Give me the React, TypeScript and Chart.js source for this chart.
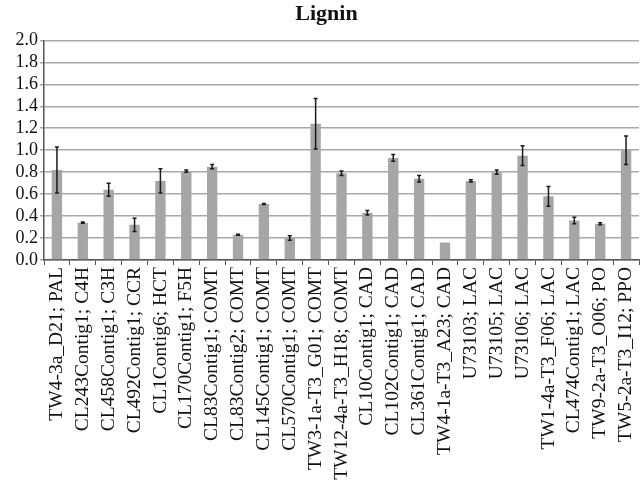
import React, { useEffect, useRef } from "react";
import { Chart, registerables } from "chart.js";

Chart.register(...registerables);

const categories = [
  "TW4-3a_D21; PAL",
  "CL243Contig1; C4H",
  "CL458Contig1; C3H",
  "CL492Contig1; CCR",
  "CL1Contig6; HCT",
  "CL170Contig1; F5H",
  "CL83Contig1; COMT",
  "CL83Contig2; COMT",
  "CL145Contig1; COMT",
  "CL570Contig1; COMT",
  "TW3-1a-T3_G01; COMT",
  "TW12-4a-T3_H18; COMT",
  "CL10Contig1; CAD",
  "CL102Contig1; CAD",
  "CL361Contig1; CAD",
  "TW4-1a-T3_A23; CAD",
  "U73103; LAC",
  "U73105; LAC",
  "U73106; LAC",
  "TW1-4a-T3_F06; LAC",
  "CL474Contig1; LAC",
  "TW9-2a-T3_O06; PO",
  "TW5-2a-T3_I12; PPO",
];

const values = [
  0.82, 0.34, 0.64, 0.32, 0.72, 0.81, 0.85, 0.23, 0.51, 0.2, 1.24, 0.79,
  0.43, 0.93, 0.74, 0.16, 0.72, 0.8, 0.95, 0.58, 0.36, 0.33, 1.0,
];

const errors = [
  0.21, 0.005, 0.06, 0.06, 0.11, 0.01, 0.02, 0.005, 0.005, 0.02, 0.23, 0.02,
  0.02, 0.03, 0.03, 0, 0.01, 0.02, 0.09, 0.09, 0.03, 0.01, 0.13,
];

const title = "Lignin";

const errorBarPlugin = {
  id: "errorBars",
  afterDatasetsDraw(chart: any) {
    const ctx = chart.ctx;
    const meta = chart.getDatasetMeta(0);
    const yScale = chart.scales.y;
    ctx.save();
    ctx.strokeStyle = "#1a1a1a";
    ctx.lineWidth = 1.5;
    meta.data.forEach((bar: any, i: number) => {
      const e = errors[i];
      if (!e) return;
      const x = bar.x;
      const yTop = yScale.getPixelForValue(values[i] + e);
      const yBot = yScale.getPixelForValue(values[i] - e);
      ctx.beginPath();
      ctx.moveTo(x, yTop);
      ctx.lineTo(x, yBot);
      ctx.moveTo(x - 2, yTop);
      ctx.lineTo(x + 2, yTop);
      ctx.moveTo(x - 2, yBot);
      ctx.lineTo(x + 2, yBot);
      ctx.stroke();
    });
    ctx.restore();
  },
};

export default function App() {
  const ref = useRef<HTMLCanvasElement | null>(null);
  useEffect(() => {
    if (!ref.current) return;
    const chart = new Chart(ref.current, {
      type: "bar",
      data: {
        labels: categories,
        datasets: [
          {
            data: values,
            backgroundColor: "#a6a6a6",
            borderWidth: 0,
            categoryPercentage: 1,
            barPercentage: 0.4,
          },
        ],
      },
      options: {
        animation: false,
        responsive: false,
        maintainAspectRatio: false,
        layout: { padding: { left: 14, right: 2, top: 0, bottom: 0 } },
        plugins: {
          legend: { display: false },
          tooltip: { enabled: false },
          title: {
            display: true,
            text: title,
            color: "#111",
            font: { family: "Liberation Serif", size: 22, weight: "bold" },
            padding: { top: 1, bottom: 13 },
          },
        },
        scales: {
          x: {
            grid: {
              display: true,
              drawOnChartArea: false,
              drawTicks: true,
              tickLength: 5,
              color: "#555",
              offset: true,
            },
            border: { color: "#555", width: 1.5 },
            ticks: {
              minRotation: 90,
              maxRotation: 90,
              autoSkip: false,
              color: "#111",
              padding: 2,
              font: { family: "Liberation Serif", size: 19.5 },
            },
            afterFit(scale: any) {
              scale.height = 223;
              scale.paddingLeft = 0;
              scale.paddingRight = 0;
            },
          },
          y: {
            min: 0,
            max: 2,
            ticks: {
              stepSize: 0.2,
              autoSkip: false,
              color: "#111",
              padding: 2,
              font: { family: "Liberation Serif", size: 18 },
              callback: (v: any) => Number(v).toFixed(1),
            },
            grid: {
              color: "#a8a8a8",
              lineWidth: 1.5,
              tickLength: 4,
            },
            border: { color: "#555", width: 1.5 },
            afterFit(scale: any) {
              scale.width = 30;
              scale.paddingTop = 0;
              scale.paddingBottom = 0;
            },
          },
        },
      },
      plugins: [errorBarPlugin],
    });
    return () => chart.destroy();
  }, []);
  return (
    <div style={{ position: "fixed", left: 0, top: 0, width: 641, height: 483, background: "#fff" }}>
      <canvas ref={ref} width={641} height={483} />
    </div>
  );
}
